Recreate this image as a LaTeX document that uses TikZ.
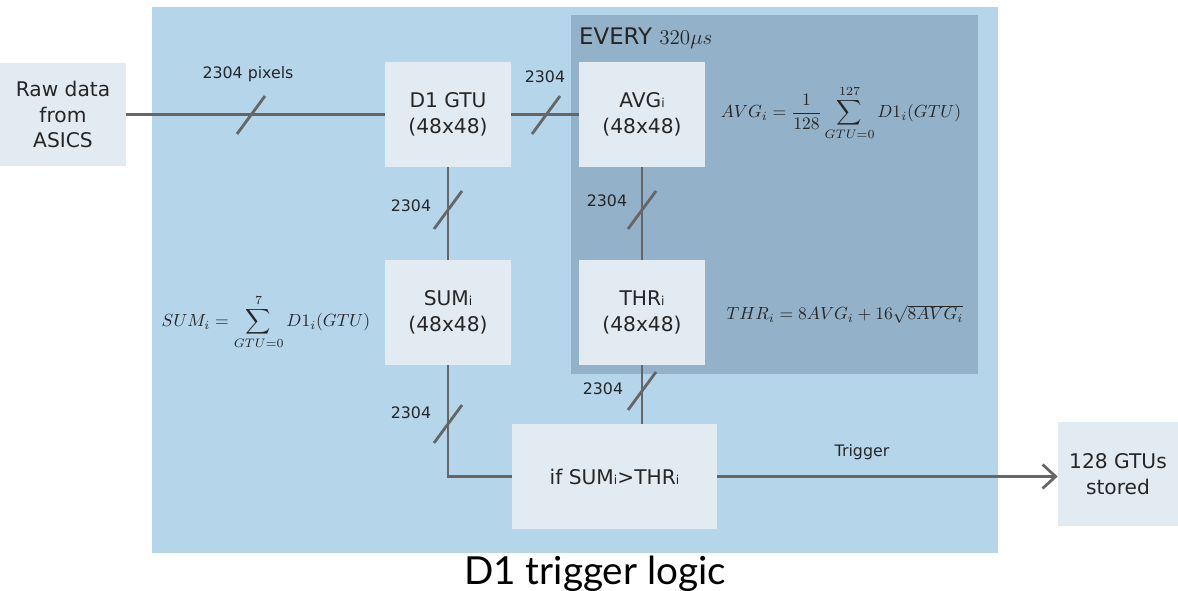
\documentclass[tikz,border=0pt]{standalone}
\usepackage{amsmath,amssymb}
\usepackage[no-math]{fontspec}
\setmainfont{DejaVu Sans}
\newfontfamily\titlefont{Lato}
\usepackage{tikz}
\usetikzlibrary{arrows.meta}
\definecolor{panelblue}{RGB}{181,213,235}
\definecolor{everyblue}{RGB}{147,177,200}
\definecolor{boxgray}{RGB}{227,235,242}
\definecolor{wiregray}{RGB}{102,102,102}

\begin{document}
\begin{tikzpicture}[x=0.02cm, y=-0.02cm, every node/.style={font=\fontsize{11.5}{14.5}\selectfont, text=black!85}, block/.style={fill=boxgray, minimum width=2.52cm, minimum height=2.1cm, align=center, inner sep=0pt}, wire/.style={draw=wiregray, line width=1.6pt}, lbl/.style={font=\fontsize{9}{11}\selectfont}, eq/.style={font=\normalsize}, >={Straight Barb[length=2.6mm, width=4.8mm]}]
	\useasboundingbox (0,0) rectangle (1178,591);
	\fill[panelblue] (152,7) rectangle (998,553);
	\fill[everyblue] (571,15) rectangle (978,374);
	\node[anchor=base west, font=\fontsize{13}{15}\selectfont] (every) at (573,45) {EVERY $320\mu s$};
	\node[block, minimum height=2.06cm] (raw) at (63,114.5) {Raw data\\from\\ASICS};
	\node[block] (d1) at (448,114.5) {D1 GTU\\(48x48)};
	\node[block] (avg) at (642,114.5) {AVG{\scriptsize i}\\(48x48)};
	\node[block] (sum) at (448,312.5) {SUM{\scriptsize i}\\(48x48)};
	\node[block] (thr) at (642,312.5) {THR{\scriptsize i}\\(48x48)};
	\node[block, minimum width=4.1cm] (iff) at (614.5,476.5) {if SUM{\scriptsize i}>THR{\scriptsize i}};
	\node[block, minimum width=2.4cm] (gtus) at (1118,474) {128 GTUs\\stored};
	\draw[wire] (raw) -- (d1);
	\draw[wire] (d1) -- (avg);
	\draw[wire] (d1) -- (sum);
	\draw[wire] (avg) -- (thr);
	\draw[wire] (sum) |- (iff);
	\draw[wire] (thr) -- (thr |- iff.north);
	\draw[wire, ->] (iff) -- (iff -| gtus.west);
	\draw[wire] (251,115) ++(-14,19) -- ++(28,-38);
	\draw[wire] (546,115) ++(-14,19) -- ++(28,-38);
	\draw[wire] (448,210) ++(-14,19) -- ++(28,-38);
	\draw[wire] (642,210) ++(-14,19) -- ++(28,-38);
	\draw[wire] (448,424) ++(-14,19) -- ++(28,-38);
	\draw[wire] (642,391) ++(-14,19) -- ++(28,-38);
	\node[lbl] (lraw) at (248,74) {2304 pixels};
	\node[lbl] (ld1avg) at (545,77) {2304};
	\node[lbl] (ld1sum) at (411,206) {2304};
	\node[lbl] (lavgthr) at (607,201) {2304};
	\node[lbl] (lsumif) at (411,413) {2304};
	\node[lbl] (lthrif) at (603,389) {2304};
	\node[lbl] (ltrig) at (862,452) {Trigger};
	\node[eq] (eqavg) at (841,113) {$\displaystyle AVG_i=\frac{1}{128}\sum_{GTU=0}^{127} D1_i(GTU)$};
	\node[eq] (eqthr) at (845,314) {$THR_i=8AVG_i+16\sqrt{8AVG_i}$};
	\node[eq] (eqsum) at (266,322) {$\displaystyle SUM_i=\sum_{GTU=0}^{7} D1_i(GTU)$};
	\node[anchor=base, font=\titlefont\fontsize{22}{26}\selectfont, text=black] (title) at (595,584) {D1 trigger logic};
\end{tikzpicture}
\end{document}
